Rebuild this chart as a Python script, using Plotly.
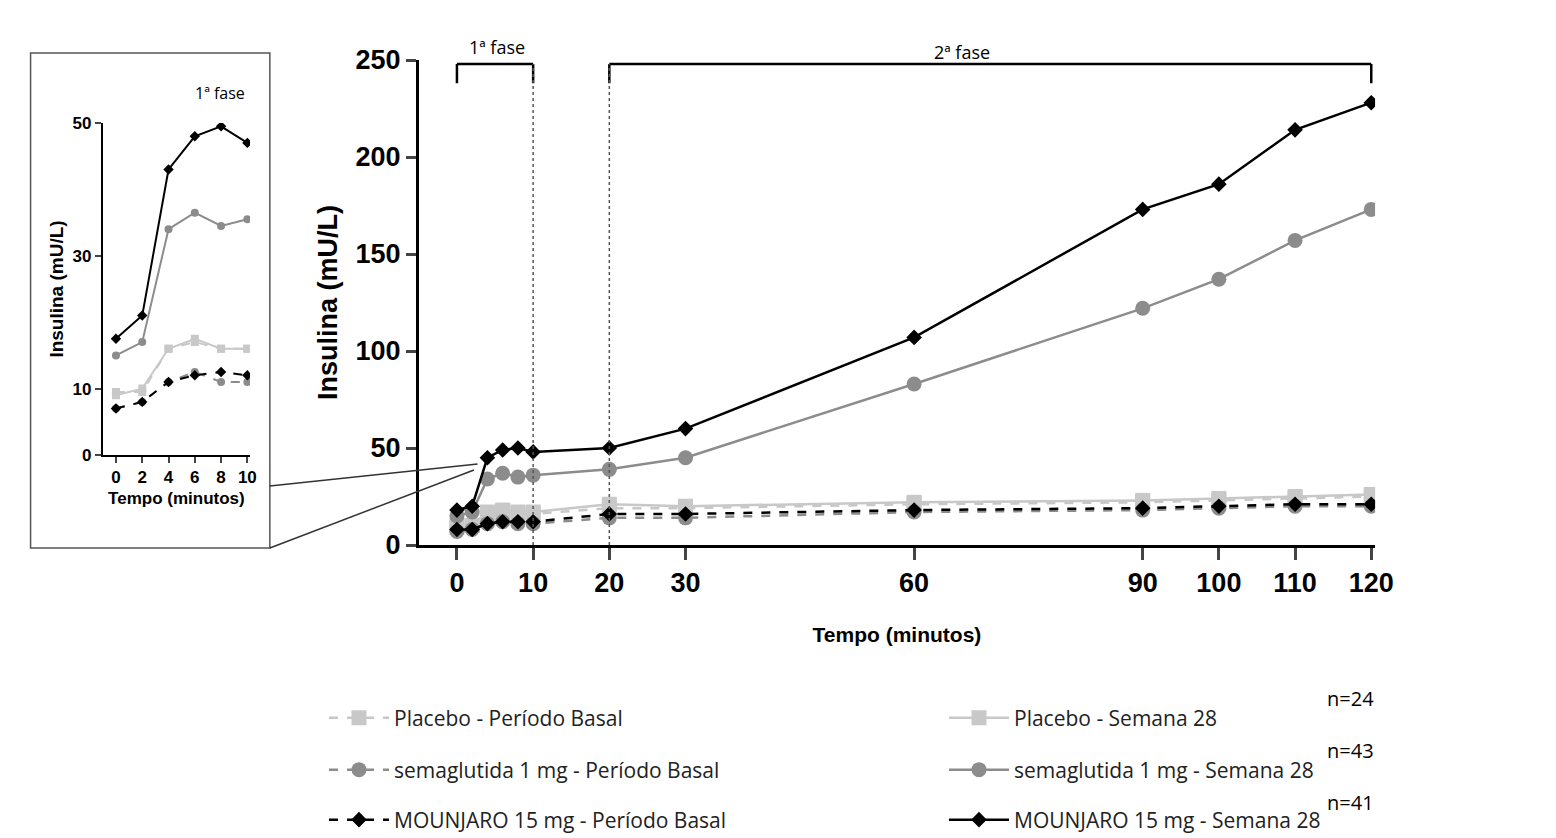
import plotly.graph_objects as go

W, H = 1556, 838

# ---------------- data ----------------
tempo = [0, 2, 4, 6, 8, 10, 20, 30, 60, 90, 100, 110, 120]
placebo_basal = [9, 10, 16, 17, 16, 16, 19, 19, 21, 22, 23, 24, 25]
placebo_s28 = [10, 10, 17, 18, 17, 17, 21, 20, 22, 23, 24, 25, 26]
sema_basal = [7, 8, 11, 12, 11, 11, 14, 14, 17, 18, 19, 20, 20]
sema_s28 = [15, 17, 34, 37, 35, 36, 39, 45, 83, 122, 137, 157, 173]
mounj_basal = [8, 8, 11, 12, 12, 12, 16, 16, 18, 19, 20, 21, 21]
mounj_s28 = [18, 20, 45, 49, 50, 48, 50, 60, 107, 173, 186, 214, 228]

tempo_in = [0, 2, 4, 6, 8, 10]
placebo_basal_in = [9.5, 9.5, 16, 17, 16, 16]
placebo_s28_in = [9, 10, 16, 17.5, 16, 16]
sema_basal_in = [7, 8, 11, 12.5, 11, 11]
sema_s28_in = [15, 17, 34, 36.5, 34.5, 35.5]
mounj_basal_in = [7, 8, 11, 12, 12.5, 12]
mounj_s28_in = [17.5, 21, 43, 48, 49.5, 47]

x_ticks = [0, 10, 20, 30, 60, 90, 100, 110, 120]
y_ticks = [0, 50, 100, 150, 200, 250]
y_ticks_in = [0, 10, 30, 50]
n_labels = ["n=24", "n=43", "n=41"]

C_PLA, C_SEM, C_MOU = "#c8c8c8", "#8c8c8c", "#000000"

# name, main values, inset values, colour, dash, symbol, legend row
series = [
    ("Placebo - Período Basal", placebo_basal, placebo_basal_in, C_PLA, "dash", "square", "legend"),
    ("Placebo - Semana 28", placebo_s28, placebo_s28_in, C_PLA, "solid", "square", "legend"),
    ("semaglutida 1 mg - Período Basal", sema_basal, sema_basal_in, C_SEM, "dash", "circle", "legend2"),
    ("semaglutida 1 mg - Semana 28", sema_s28, sema_s28_in, C_SEM, "solid", "circle", "legend2"),
    ("MOUNJARO 15 mg - Período Basal", mounj_basal, mounj_basal_in, C_MOU, "dash", "diamond", "legend3"),
    ("MOUNJARO 15 mg - Semana 28", mounj_s28, mounj_s28_in, C_MOU, "solid", "diamond", "legend3"),
]

fig = go.Figure()
for name, y, yin, col, dash, sym, leg in series:
    fig.add_trace(go.Scatter(
        x=tempo, y=y, name=name, mode="lines+markers", legend=leg,
        line=dict(color=col, width=2.5, dash=dash),
        marker=dict(symbol=sym, size=15 if sym != "diamond" else 12, color=col),
        xaxis="x", yaxis="y"))
    fig.add_trace(go.Scatter(
        x=tempo_in, y=yin, showlegend=False, mode="lines+markers",
        line=dict(color=col, width=2, dash=dash),
        marker=dict(symbol=sym, size=8, color=col),
        xaxis="x2", yaxis="y2"))


def px(x):
    return x / W


def py(y):
    return 1 - y / H


shapes = []
lk = dict(color="black", width=2.5)
# main brackets
for x0, x1 in [(0, 10), (20, 120)]:
    shapes.append(dict(type="line", xref="x", yref="y", x0=x0, x1=x1, y0=248, y1=248, line=lk))
    for xx in (x0, x1):
        shapes.append(dict(type="line", xref="x", yref="y", x0=xx, x1=xx, y0=248, y1=238, line=lk))
for xx in (10, 20):
    shapes.append(dict(type="line", xref="x", yref="y", x0=xx, x1=xx, y0=0, y1=248,
                       line=dict(color="#555", width=1.5, dash="dot")))
# inset bracket
shapes.append(dict(type="line", xref="x2", yref="y2", x0=0, x1=10, y0=53, y1=53, line=lk))
for xx in (0, 10):
    shapes.append(dict(type="line", xref="x2", yref="y2", x0=xx, x1=xx, y0=53, y1=51.5, line=lk))
# inset box and zoom lines
shapes.append(dict(type="rect", xref="paper", yref="paper", x0=px(25), x1=px(290),
                   y0=py(540), y1=py(45), line=dict(color="#555", width=1.5)))
shapes.append(dict(type="line", xref="paper", yref="paper", x0=px(290), y0=py(478),
                   x1=px(520), y1=py(456), line=dict(color="#333", width=1.5)))
shapes.append(dict(type="line", xref="paper", yref="paper", x0=px(290), y0=py(540),
                   x1=px(516), y1=py(462), line=dict(color="#333", width=1.5)))

annots = [
    dict(text="1ª fase", x=px(542), y=py(25), xref="paper", yref="paper", showarrow=False,
         font=dict(size=18, family="Open Sans")),
    dict(text="2ª fase", x=px(1090), y=py(30), xref="paper", yref="paper", showarrow=False,
         font=dict(size=18, family="Open Sans")),
    dict(text="1ª fase", x=px(205), y=py(72), xref="paper", yref="paper", showarrow=False,
         font=dict(size=16, family="Open Sans")),
]
for i, t in enumerate(n_labels):
    annots.append(dict(text=t, x=px(1515), y=py(706 + 52 * i), xref="paper", yref="paper",
                       showarrow=False, xanchor="right", font=dict(size=20, family="Open Sans")))

leg_common = dict(orientation="h", xanchor="left", yanchor="middle", entrywidth=545,
                  itemwidth=60, bgcolor="rgba(0,0,0,0)",
                  font=dict(size=21, family="Open Sans", color="#222"))

tick_big = dict(size=27, family="Liberation Sans", color="black", weight="bold")

fig.update_layout(
    width=W, height=H,
    margin=dict(l=0, r=0, t=0, b=0),
    plot_bgcolor="white", paper_bgcolor="white",
    font=dict(family="Liberation Sans", color="black"),
    showlegend=True,
    legend=dict(x=px(350), y=py(710), **leg_common),
    legend2=dict(x=px(350), y=py(762), **leg_common),
    legend3=dict(x=px(350), y=py(812), **leg_common),
    xaxis=dict(domain=[px(455), px(1514)], range=[-5, 120.5], tickvals=x_ticks,
               automargin=False,
               showline=True, linecolor="black", linewidth=3, ticks="outside", ticklen=12,
               tickwidth=3, showgrid=False, zeroline=False, tickfont=tick_big,
               title=dict(text="<b>Tempo (minutos)</b>", font=dict(size=21), standoff=30)),
    yaxis=dict(domain=[py(537), py(52)], range=[0, 250], tickvals=y_ticks,
               automargin=False,
               showline=True, linecolor="black", linewidth=3, ticks="outside", ticklen=10,
               tickwidth=3, showgrid=False, zeroline=False, tickfont=tick_big,
               title=dict(text="<b>Insulina (mU/L)</b>", font=dict(size=27), standoff=10)),
    xaxis2=dict(domain=[px(105), px(268)], range=[-1, 10.2], tickvals=tempo_in,
                anchor="y2", automargin=False, showline=True, linecolor="black", linewidth=2,
                ticks="outside", ticklen=6, tickwidth=2, showgrid=False, zeroline=False,
                tickfont=dict(size=17, weight="bold"),
                title=dict(text="<b>Tempo (minutos)</b>", font=dict(size=17), standoff=6)),
    yaxis2=dict(domain=[py(447), py(115)], range=[0, 50], tickvals=y_ticks_in,
                anchor="x2", automargin=False, showline=True, linecolor="black", linewidth=2,
                ticks="outside", ticklen=6, tickwidth=2, showgrid=False, zeroline=False,
                tickfont=dict(size=17, weight="bold"),
                title=dict(text="<b>Insulina (mU/L)</b>", font=dict(size=19), standoff=4)),
    shapes=shapes, annotations=annots,
)

fig.write_html("out.html")
